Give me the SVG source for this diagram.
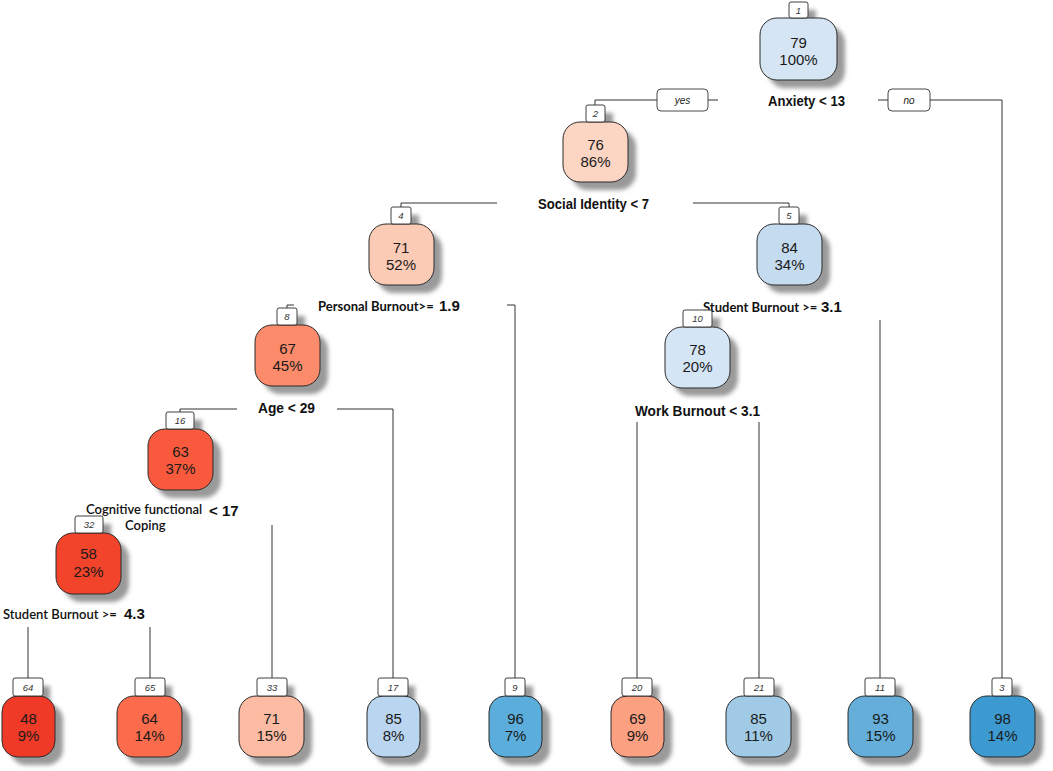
<svg xmlns="http://www.w3.org/2000/svg" width="1053" height="771" viewBox="0 0 1053 771">
<defs>
<filter id="blur" x="-20%" y="-20%" width="140%" height="140%"><feGaussianBlur stdDeviation="2.2"/></filter>
</defs>
<style>
.sh{fill:#9a9a9a;filter:url(#blur)}
.box{stroke:#2b2b2b;stroke-width:1}
.lab{fill:#fff;stroke:#2b2b2b;stroke-width:0.9}
.lt{font-family:"Liberation Sans",Arial,sans-serif;font-style:italic;font-size:9.5px;fill:#333;text-anchor:middle}
.nt{font-family:"Liberation Sans",Arial,sans-serif;font-size:15px;fill:#1a1a1a;text-anchor:middle}
.sp{font-family:"Liberation Sans",Arial,sans-serif;font-weight:bold;font-size:15.5px;fill:#111}
.num{font-family:"Liberation Sans",Arial,sans-serif;font-weight:bold;font-size:15px;fill:#111}
.cal{font-family:Lato,"Open Sans",sans-serif;font-weight:bold;font-size:13px;fill:#111}
.calr{font-family:Lato,"Open Sans",sans-serif;font-weight:600;font-size:13px;fill:#111}
.yn{fill:#fff;stroke:#333;stroke-width:0.9}
.ynt{font-family:"Liberation Sans",Arial,sans-serif;font-style:italic;font-size:10px;fill:#222;text-anchor:middle}
.ln{fill:none;stroke:#333;stroke-width:1}
</style>
<rect width="1053" height="771" fill="#fff"/>

<g id="connectors">
<path class="ln" d="M595 105V100H657M708 100H718"/>
<path class="ln" d="M878 100H888M930 100H1002V678"/>
<path class="ln" d="M401 207V203H497M693 203H789V207"/>
<path class="ln" d="M287 308V305H294M507 305H515V678"/>
<path class="ln" d="M880 320V678"/>
<path class="ln" d="M180 412V409H237M337 409H393V678"/>
<path class="ln" d="M637 422V678M759 422V678"/>
<path class="ln" d="M272 525V678"/>
<path class="ln" d="M28 627V678M150 627V678"/>
<rect class="yn" x="657" y="89" width="51" height="22" rx="4"/>
<text class="ynt" x="682.5" y="104">yes</text>
<rect class="yn" x="888" y="89" width="42" height="22" rx="4"/>
<text class="ynt" x="909" y="104">no</text>
</g>

<g id="splits">
<text class="sp" x="768" y="106" textLength="77" lengthAdjust="spacingAndGlyphs">Anxiety &lt; 13</text>
<text class="sp" x="538" y="208.5" textLength="111" lengthAdjust="spacingAndGlyphs">Social Identity &lt; 7</text>
<text class="cal" x="318" y="310.5">Personal Burnout&gt;=</text>
<text class="num" x="439" y="311">1.9</text>
<text class="cal" x="703" y="311.5">Student Burnout &gt;=</text>
<text class="num" x="821" y="312">3.1</text>
<text class="sp" x="635" y="415.5" textLength="125" lengthAdjust="spacingAndGlyphs">Work Burnout &lt; 3.1</text>
<text class="sp" x="258" y="412.5" textLength="57" lengthAdjust="spacingAndGlyphs">Age &lt; 29</text>
<text class="calr" x="86" y="513.5">Cognitive functional</text>
<text class="num" x="209" y="516">&lt; 17</text>
<text class="calr" x="125" y="530" font-size="13.5">Coping</text>
<text class="calr" x="3" y="618.5" font-size="12.8">Student Burnout &gt;=</text>
<text class="num" x="124" y="619">4.3</text>
</g>

<g id="node1">
<rect class="sh" x="768" y="26" width="77" height="62" rx="17"/><rect class="sh" x="797" y="10" width="19" height="16"/>
<rect class="box" x="760" y="18" width="77" height="62" rx="17" fill="#D5E5F4"/>
<rect class="lab" x="789" y="2" width="19" height="16" rx="2"/><text class="lt" x="798.5" y="13.5">1</text>
<text class="nt" x="798.5" y="48">79</text><text class="nt" x="798.5" y="65">100%</text>
</g>

<g id="node2">
<rect class="sh" x="571" y="130" width="65" height="60" rx="17"/><rect class="sh" x="594" y="113" width="19" height="17"/>
<rect class="box" x="563" y="122" width="65" height="60" rx="17" fill="#FDD5C3"/>
<rect class="lab" x="586" y="105" width="19" height="17" rx="2"/><text class="lt" x="595.5" y="117">2</text>
<text class="nt" x="595.5" y="150">76</text><text class="nt" x="595.5" y="167">86%</text>
</g>

<g id="node4">
<rect class="sh" x="377" y="232" width="65" height="61" rx="17"/><rect class="sh" x="399" y="215" width="20" height="17"/>
<rect class="box" x="369" y="224" width="65" height="61" rx="17" fill="#FCCBB5"/>
<rect class="lab" x="391" y="207" width="20" height="17" rx="2"/><text class="lt" x="401" y="219">4</text>
<text class="nt" x="401" y="253">71</text><text class="nt" x="401" y="270">52%</text>
</g>

<g id="node5">
<rect class="sh" x="765" y="232" width="65" height="61" rx="17"/><rect class="sh" x="787" y="215" width="20" height="17"/>
<rect class="box" x="757" y="224" width="65" height="61" rx="17" fill="#C5DBEF"/>
<rect class="lab" x="779" y="207" width="20" height="17" rx="2"/><text class="lt" x="789" y="219">5</text>
<text class="nt" x="789.5" y="253">84</text><text class="nt" x="789.5" y="270">34%</text>
</g>

<g id="node8">
<rect class="sh" x="263" y="333" width="65" height="61" rx="17"/><rect class="sh" x="285" y="316" width="20" height="17"/>
<rect class="box" x="255" y="325" width="65" height="61" rx="17" fill="#FC8B6B"/>
<rect class="lab" x="277" y="308" width="20" height="17" rx="2"/><text class="lt" x="287" y="320">8</text>
<text class="nt" x="287.5" y="354">67</text><text class="nt" x="287.5" y="371">45%</text>
</g>

<g id="node10">
<rect class="sh" x="673" y="335" width="65" height="61" rx="17"/><rect class="sh" x="691" y="318" width="29" height="17"/>
<rect class="box" x="665" y="327" width="65" height="61" rx="17" fill="#D4E5F5"/>
<rect class="lab" x="683" y="310" width="29" height="17" rx="2"/><text class="lt" x="697.5" y="322">10</text>
<text class="nt" x="697.5" y="355">78</text><text class="nt" x="697.5" y="372">20%</text>
</g>

<g id="node16">
<rect class="sh" x="156" y="437" width="65" height="61" rx="17"/><rect class="sh" x="174" y="420" width="28" height="17"/>
<rect class="box" x="148" y="429" width="65" height="61" rx="17" fill="#F95A3E"/>
<rect class="lab" x="166" y="412" width="28" height="17" rx="2"/><text class="lt" x="180" y="424">16</text>
<text class="nt" x="180.5" y="457">63</text><text class="nt" x="180.5" y="474">37%</text>
</g>

<g id="node32">
<rect class="sh" x="64" y="541" width="65" height="61" rx="17"/><rect class="sh" x="83" y="524" width="28" height="17"/>
<rect class="box" x="56" y="533" width="65" height="61" rx="17" fill="#F2432B"/>
<rect class="lab" x="75" y="516" width="28" height="17" rx="2"/><text class="lt" x="89" y="528">32</text>
<text class="nt" x="88.5" y="559">58</text><text class="nt" x="88.5" y="577">23%</text>
</g>

<g id="leaf64">
<rect class="sh" x="10" y="704" width="53" height="61" rx="16"/><rect class="sh" x="21" y="686" width="29" height="18"/>
<rect class="box" x="2" y="696" width="53" height="61" rx="16" fill="#EF3A27"/>
<rect class="lab" x="13" y="678" width="30" height="18" rx="2"/><text class="lt" x="28" y="690.5">64</text>
<text class="nt" x="28.5" y="724">48</text><text class="nt" x="28.5" y="741">9%</text>
</g>

<g id="leaf65">
<rect class="sh" x="125" y="704" width="65" height="61" rx="17"/><rect class="sh" x="143" y="686" width="29" height="18"/>
<rect class="box" x="117" y="696" width="65" height="61" rx="17" fill="#FB6B4C"/>
<rect class="lab" x="135" y="678" width="30" height="18" rx="2"/><text class="lt" x="150" y="690.5">65</text>
<text class="nt" x="149.5" y="724">64</text><text class="nt" x="149.5" y="741">14%</text>
</g>

<g id="leaf33">
<rect class="sh" x="247" y="704" width="65" height="61" rx="17"/><rect class="sh" x="265" y="686" width="29" height="18"/>
<rect class="box" x="239" y="696" width="65" height="61" rx="17" fill="#FCBBA2"/>
<rect class="lab" x="257" y="678" width="30" height="18" rx="2"/><text class="lt" x="272" y="690.5">33</text>
<text class="nt" x="271.5" y="724">71</text><text class="nt" x="271.5" y="741">15%</text>
</g>

<g id="leaf17">
<rect class="sh" x="375" y="704" width="53" height="61" rx="16"/><rect class="sh" x="386" y="686" width="29" height="18"/>
<rect class="box" x="367" y="696" width="53" height="61" rx="16" fill="#B9D5EF"/>
<rect class="lab" x="378" y="678" width="30" height="18" rx="2"/><text class="lt" x="393" y="690.5">17</text>
<text class="nt" x="393.5" y="724">85</text><text class="nt" x="393.5" y="741">8%</text>
</g>

<g id="leaf9">
<rect class="sh" x="497" y="704" width="53" height="61" rx="16"/><rect class="sh" x="513" y="686" width="20" height="18"/>
<rect class="box" x="489" y="696" width="53" height="61" rx="16" fill="#5BAEDB"/>
<rect class="lab" x="505" y="678" width="20" height="18" rx="2"/><text class="lt" x="515" y="690.5">9</text>
<text class="nt" x="515.5" y="724">96</text><text class="nt" x="515.5" y="741">7%</text>
</g>

<g id="leaf20">
<rect class="sh" x="619" y="704" width="53" height="61" rx="16"/><rect class="sh" x="630" y="686" width="29" height="18"/>
<rect class="box" x="611" y="696" width="53" height="61" rx="16" fill="#FCA082"/>
<rect class="lab" x="622" y="678" width="30" height="18" rx="2"/><text class="lt" x="637" y="690.5">20</text>
<text class="nt" x="637.5" y="724">69</text><text class="nt" x="637.5" y="741">9%</text>
</g>

<g id="leaf21">
<rect class="sh" x="734" y="704" width="65" height="61" rx="17"/><rect class="sh" x="752" y="686" width="29" height="18"/>
<rect class="box" x="726" y="696" width="65" height="61" rx="17" fill="#A0CAE6"/>
<rect class="lab" x="744" y="678" width="30" height="18" rx="2"/><text class="lt" x="759" y="690.5">21</text>
<text class="nt" x="758.5" y="724">85</text><text class="nt" x="758.5" y="741">11%</text>
</g>

<g id="leaf11">
<rect class="sh" x="856" y="704" width="65" height="61" rx="17"/><rect class="sh" x="873" y="686" width="29" height="18"/>
<rect class="box" x="848" y="696" width="65" height="61" rx="17" fill="#65AED9"/>
<rect class="lab" x="865" y="678" width="30" height="18" rx="2"/><text class="lt" x="880" y="690.5">11</text>
<text class="nt" x="880.5" y="724">93</text><text class="nt" x="880.5" y="741">15%</text>
</g>

<g id="leaf3">
<rect class="sh" x="978" y="704" width="65" height="61" rx="17"/><rect class="sh" x="1000" y="686" width="20" height="18"/>
<rect class="box" x="970" y="696" width="65" height="61" rx="17" fill="#3D9AD1"/>
<rect class="lab" x="992" y="678" width="20" height="18" rx="2"/><text class="lt" x="1002" y="690.5">3</text>
<text class="nt" x="1002.5" y="724">98</text><text class="nt" x="1002.5" y="741">14%</text>
</g>
</svg>
